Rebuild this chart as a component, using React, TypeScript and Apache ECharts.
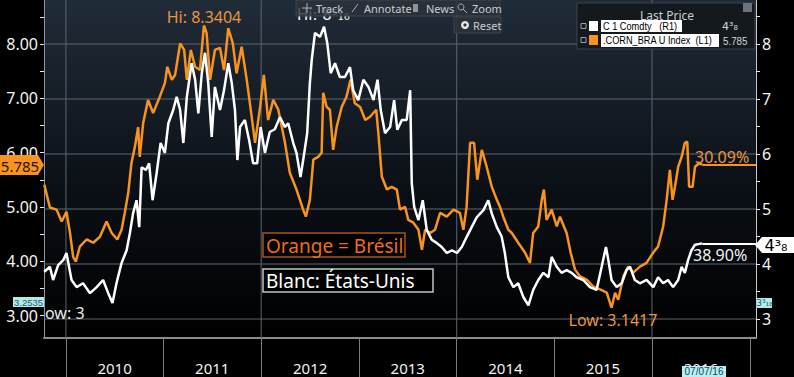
import React, { useEffect, useRef } from 'react';
import * as echarts from 'echarts';

// ---------- DATA ----------
const brazilDates = [
  '2009-10-12','2009-11-02','2009-11-27','2009-12-16','2010-01-03','2010-01-16','2010-01-28','2010-02-07','2010-02-22','2010-03-19',
  '2010-04-13','2010-05-08','2010-06-02','2010-06-21','2010-07-12','2010-07-28','2010-08-09','2010-08-22','2010-09-03','2010-09-16',
  '2010-09-28','2010-10-04','2010-10-17','2010-11-04','2010-11-23','2010-12-18','2011-01-06','2011-01-15','2011-02-01','2011-02-13',
  '2011-03-04','2011-03-19','2011-03-29','2011-04-13','2011-04-29','2011-05-17','2011-06-01','2011-06-11','2011-06-24','2011-07-12',
  '2011-07-31','2011-08-15','2011-08-31','2011-09-17','2011-10-01','2011-10-20','2011-11-08','2011-11-23','2011-12-09','2011-12-28',
  '2012-01-11','2012-01-27','2012-02-15','2012-03-05','2012-03-30','2012-04-17','2012-05-12','2012-06-06','2012-06-16','2012-07-01',
  '2012-07-14','2012-08-01','2012-08-14','2012-08-20','2012-09-02','2012-09-14','2012-09-26','2012-10-09','2012-10-28','2012-11-15',
  '2012-11-30','2012-12-16','2013-01-05','2013-01-24','2013-02-11','2013-03-06','2013-03-14','2013-03-27','2013-04-15','2013-05-03',
  '2013-05-22','2013-06-03','2013-06-22','2013-07-04','2013-07-23','2013-08-11','2013-08-24','2013-09-05','2013-09-24','2013-10-12',
  '2013-10-31','2013-11-25','2013-12-20','2014-01-13','2014-01-26','2014-02-07','2014-02-20','2014-03-07','2014-03-19','2014-04-05',
  '2014-04-23','2014-05-12','2014-05-31','2014-06-12','2014-06-24','2014-07-13','2014-07-26','2014-08-19','2014-09-13','2014-10-02',
  '2014-10-14','2014-11-02','2014-11-15','2014-11-23','2014-12-03','2014-12-22','2015-01-10','2015-01-22','2015-02-16','2015-03-03',
  '2015-03-19','2015-04-07','2015-05-02','2015-05-27','2015-06-21','2015-07-16','2015-08-03','2015-08-16','2015-08-28','2015-09-16',
  '2015-10-04','2015-10-23','2015-11-17','2015-12-12','2016-01-06','2016-01-24','2016-02-12','2016-02-25','2016-03-08','2016-03-18',
  '2016-03-27','2016-04-08','2016-04-21','2016-05-03','2016-05-12','2016-05-19','2016-06-01','2016-06-10','2016-06-24','2016-07-07',
];
const brazilValues = [
  5.41,4.99,4.95,4.73,4.91,4.53,4.08,3.99,4.27,4.40,
  4.34,4.45,4.73,4.52,4.40,4.58,4.89,5.26,5.81,6.11,
  6.47,5.92,6.55,6.97,6.73,7.03,7.28,7.58,7.34,7.43,
  8.01,7.89,7.34,7.89,7.58,7.52,8.3404,8.20,7.34,7.89,
  7.93,7.52,8.29,8.01,7.46,7.95,7.34,6.79,6.18,6.84,
  7.43,6.60,6.97,6.79,6.18,5.63,5.32,4.95,4.82,5.13,
  5.87,5.92,6.00,7.10,6.84,6.79,6.05,6.47,6.84,7.03,
  7.34,6.91,6.84,6.60,6.66,6.79,6.36,5.56,5.32,5.37,
  5.32,4.95,5.00,4.76,4.71,4.58,4.21,4.58,4.52,4.58,
  4.89,4.82,4.95,4.89,4.58,5.00,6.18,6.18,5.50,6.05,
  5.74,5.37,5.13,5.00,4.82,4.58,4.52,4.34,4.16,3.97,
  4.52,4.64,5.13,5.32,4.76,4.95,4.64,4.82,4.52,4.16,
  3.85,3.72,3.66,3.53,3.48,3.42,3.1417,3.42,3.29,3.72,
  3.90,3.79,3.90,3.97,4.16,4.27,4.64,5.13,5.68,5.13,
  5.37,5.74,5.92,6.18,6.20,5.37,5.37,5.74,5.80,5.785,
];

const usDates = [
  '2009-10-12','2009-11-02','2009-11-14','2009-12-03','2009-12-22','2010-01-03','2010-01-22','2010-02-10','2010-03-06','2010-04-01',
  '2010-04-26','2010-05-20','2010-06-08','2010-06-24','2010-07-09','2010-07-28','2010-08-16','2010-08-28','2010-09-09','2010-09-22',
  '2010-10-02','2010-10-11','2010-10-27','2010-11-08','2010-11-21','2010-12-06','2010-12-21','2011-01-06','2011-01-19','2011-02-06',
  '2011-02-19','2011-03-04','2011-03-16','2011-03-29','2011-04-16','2011-04-29','2011-05-11','2011-05-24','2011-06-05','2011-06-17',
  '2011-06-30','2011-07-12','2011-07-31','2011-08-15','2011-08-31','2011-09-13','2011-09-25','2011-10-04','2011-10-14','2011-11-01',
  '2011-11-17','2011-12-02','2011-12-17','2011-12-30','2012-01-15','2012-02-02','2012-02-21','2012-03-11','2012-03-30','2012-04-11',
  '2012-04-30','2012-05-12','2012-05-27','2012-06-06','2012-06-21','2012-07-01','2012-07-08','2012-07-20','2012-08-08','2012-08-23',
  '2012-09-04','2012-09-17','2012-10-03','2012-10-21','2012-11-09','2012-11-28','2012-12-10','2012-12-29','2013-01-17','2013-02-05',
  '2013-02-24','2013-03-11','2013-03-23','2013-04-08','2013-04-27','2013-05-12','2013-05-24','2013-06-10','2013-06-28','2013-07-11',
  '2013-07-17','2013-07-26','2013-08-11','2013-08-27','2013-09-11','2013-09-30','2013-10-19','2013-11-06','2013-11-25','2013-12-14',
  '2014-01-02','2014-01-20','2014-02-07','2014-02-26','2014-03-17','2014-04-11','2014-04-29','2014-05-12','2014-05-31','2014-06-18',
  '2014-06-30','2014-07-13','2014-08-01','2014-08-19','2014-09-07','2014-09-26','2014-10-14','2014-11-02','2014-11-21','2014-12-10',
  '2014-12-22','2015-01-10','2015-01-28','2015-02-16','2015-03-07','2015-03-25','2015-04-19','2015-05-14','2015-06-08','2015-06-27',
  '2015-07-13','2015-07-22','2015-08-03','2015-08-22','2015-09-10','2015-09-28','2015-10-11','2015-10-29','2015-11-17','2015-12-12',
  '2016-01-06','2016-01-24','2016-02-12','2016-03-01','2016-03-20','2016-04-08','2016-04-21','2016-05-03','2016-05-15','2016-05-28',
  '2016-06-10','2016-07-07',
];
const usValues = [
  3.86,3.95,3.71,3.98,4.07,4.20,3.71,3.58,3.65,3.47,
  3.58,3.71,3.47,3.29,3.65,4.02,4.25,4.56,4.92,5.16,
  4.67,5.76,5.71,5.83,5.16,5.65,6.20,6.02,6.56,6.80,
  7.04,6.80,6.20,7.04,7.65,7.35,6.74,7.47,7.84,7.29,
  6.31,7.22,6.80,7.16,7.65,7.29,6.80,5.89,6.49,6.62,
  6.25,5.83,5.83,6.49,6.02,6.40,6.45,6.67,6.49,6.56,
  6.20,6.02,5.58,5.89,6.38,7.29,7.71,8.20,8.13,8.3125,
  8.02,7.47,7.65,7.40,7.40,7.58,7.16,6.98,7.35,7.22,
  6.98,7.35,6.80,6.38,6.49,6.98,6.44,6.62,6.62,7.16,
  5.47,5.04,4.80,5.16,4.62,4.44,4.38,4.31,4.20,4.25,
  4.20,4.31,4.49,4.67,4.85,4.98,5.16,4.92,4.67,4.50,
  4.20,3.76,3.58,3.65,3.40,3.25,3.53,3.71,3.84,3.76,
  4.13,3.95,3.84,3.89,3.84,3.76,3.71,3.58,3.53,3.95,
  4.31,4.07,3.71,3.58,3.65,3.89,3.95,3.71,3.65,3.71,
  3.58,3.76,3.65,3.71,3.58,3.71,3.95,3.84,4.07,4.25,
  4.35,4.375,
];

const yearLabels = ['2010', '2011', '2012', '2013', '2014', '2015', '2016'];
const yearBoundaries = ['2010', '2011', '2012', '2013', '2014', '2015', '2016', '2017'];
const gridYears = ['2010', '2012', '2014', '2016'];
const leftLabelValues = [3, 4, 5, 6, 7, 8];
const rightLabelValues = [3, 4, 5, 6, 7, 8];
const tickValues = [3, 3.5, 4, 4.5, 5, 5.5, 6, 6.5, 7, 7.5, 8, 8.5];
const X_MIN = '2009-10-11';
const X_MAX = '2017-01-24';
const LEFT_MIN = 2.586;
const LEFT_MAX = 8.81;
const RIGHT_MIN = 2.655;
const RIGHT_MAX = 8.8;

const ts = (s: string) => {
  const [y, m, d] = s.split('-').map(Number);
  return new Date(y, (m || 1) - 1, d || 1).getTime();
};

const FONT = "'Noto Sans', 'DejaVu Sans', sans-serif";
const ARIAL = "'Liberation Sans', 'DejaVu Sans', sans-serif";
const ORANGE = '#f7931e';
const ORANGE_TXT = '#e8963e';
const GRID_COLOR = '#5c6672';

const text = (t: string, x: number, y: number, fill: string, fontSize: number, align = 'left', extra: any = {}) => ({
  type: 'text', x, y, z: 100,
  style: { text: t, fill, fontSize, fontFamily: FONT, align, verticalAlign: 'middle', ...extra },
});
const rect = (x: number, y: number, w: number, h: number, style: any, z = 100) => ({
  type: 'rect', z, shape: { x, y, width: w, height: h }, style,
});

export default function App() {
  const ref = useRef<HTMLDivElement>(null);
  useEffect(() => {
    document.body.style.margin = '0';
    document.body.style.background = '#000';
    const chart = echarts.init(ref.current!, null, { renderer: 'svg' });

    const brazil = brazilDates.map((d, i) => [ts(d), brazilValues[i]]);
    const us = usDates.map((d, i) => [ts(d), usValues[i]]);
    const bLast = brazil[brazil.length - 1];
    const uLast = us[us.length - 1];

    const graphic: any[] = [
      rect(44, 0, 712, 338, {
        fill: new echarts.graphic.LinearGradient(0, 0, 0, 1, [
          { offset: 0, color: '#212c39' },
          { offset: 0.55, color: '#0b1016' },
          { offset: 1, color: '#000000' },
        ]),
      }, -10),

      text('Hi: 8⁵₁₆', 297, 15, '#ffffff', 15, 'left', { fontFamily: "'DejaVu Sans', sans-serif" }),
      rect(296, 0, 204, 16, { fill: 'rgba(44,50,58,0.82)', stroke: '#3d444d', lineWidth: 1 }, 110),
      rect(454, 17, 47, 16, { fill: 'rgba(44,50,58,0.9)', stroke: '#3d444d', lineWidth: 1 }, 110),
      { type: 'line', z: 111, shape: { x1: 307, y1: 3, x2: 307, y2: 13 }, style: { stroke: '#aab0b6', lineWidth: 1 } },
      { type: 'line', z: 111, shape: { x1: 302, y1: 8, x2: 312, y2: 8 }, style: { stroke: '#aab0b6', lineWidth: 1 } },
      { type: 'line', z: 111, shape: { x1: 352, y1: 12, x2: 358, y2: 4 }, style: { stroke: '#aab0b6', lineWidth: 1 } },
      rect(413, 4, 5, 8, { fill: '#8e949a' }, 111),
      { type: 'circle', z: 111, shape: { cx: 461, cy: 7, r: 3 }, style: { fill: 'none', stroke: '#aab0b6', lineWidth: 1 } },
      { type: 'line', z: 111, shape: { x1: 463, y1: 9, x2: 467, y2: 13 }, style: { stroke: '#aab0b6', lineWidth: 1 } },
      { ...text('Track', 316, 8, '#c9cdd2', 11), z: 112 },
      { ...text('Annotate', 364, 8, '#c9cdd2', 11), z: 112 },
      { ...text('News', 426, 8, '#c9cdd2', 11), z: 112 },
      { ...text('Zoom', 472, 8, '#c9cdd2', 11), z: 112 },
      { type: 'circle', z: 112, shape: { cx: 465, cy: 25, r: 4 }, style: { fill: '#e8e8e8' } },
      { type: 'circle', z: 113, shape: { cx: 465, cy: 25, r: 1.6 }, style: { fill: '#2c323a' } },
      { ...text('Reset', 473, 25, '#c9cdd2', 11), z: 112 },

      rect(577, 3, 178, 46, { fill: 'rgba(20,24,30,0.95)', stroke: '#3c434c', lineWidth: 1 }, 110),
      rect(743, 3, 9, 9, { fill: '#6c737b' }, 111),
      { ...text('Last Price', 667, 15, '#c9cdd2', 12, 'center'), z: 112 },
      rect(581, 23.5, 5, 5, { fill: 'none', stroke: '#9aa0a6', lineWidth: 1 }, 111),
      rect(589, 21, 9, 10, { fill: '#ffffff' }, 111),
      rect(601, 20, 81, 12, { fill: '#ffffff' }, 111),
      { ...text('C 1 Comdty   (R1)', 603, 26.5, '#000000', 11.5, 'left', { fontFamily: ARIAL }), scaleX: 0.8, z: 112 },
      { ...text('4³₈', 722, 26, '#d4d6d8', 11, 'left', { fontFamily: "'DejaVu Sans', sans-serif" }), z: 112 },
      rect(581, 37.5, 5, 5, { fill: 'none', stroke: '#9aa0a6', lineWidth: 1 }, 111),
      rect(589, 35, 9, 10, { fill: ORANGE }, 111),
      rect(601, 34, 118, 13, { fill: '#ffffff' }, 111),
      { ...text('.CORN_BRA U Index  (L1)', 603, 40.5, '#000000', 11.5, 'left', { fontFamily: ARIAL }), scaleX: 0.8, z: 112 },
      { ...text('5.785', 723, 40.5, '#d4d6d8', 11.5, 'left', { fontFamily: ARIAL }), scaleX: 0.85, z: 112 },

      text('Hi: 8.3404', 204, 17, ORANGE_TXT, 16, 'center'),
      text('Low: 3.1417', 613, 320, ORANGE_TXT, 16, 'center'),
      text('30.09%', 695, 157, ORANGE_TXT, 16, 'left'),
      text('38.90%', 693, 255, '#f2f2f2', 16, 'left'),
      text('ow: 3', 45, 313, '#e8e8e8', 16, 'left'),

      rect(263, 233, 142, 24, { fill: 'rgba(0,0,0,0.85)', stroke: '#a9521e', lineWidth: 1.5 }),
      { ...text('Orange = Brésil', 266, 245.5, '#ec6e1e', 19), z: 101 },
      rect(263, 269, 170, 23, { fill: '#000000', stroke: '#c4c4c4', lineWidth: 1.5 }),
      { ...text('Blanc: États-Unis', 266, 281, '#ffffff', 19), z: 101 },

      { type: 'polygon', z: 120, shape: { points: [[0, 155], [38, 155], [44, 165], [38, 175], [0, 175]] }, style: { fill: ORANGE } },
      { ...text('5.785', 20, 165.5, '#2a1400', 15, 'center'), z: 121 },
      { type: 'polygon', z: 120, shape: { points: [[794, 237], [762, 237], [755, 245], [762, 253], [794, 253]] }, style: { fill: '#ffffff' } },
      { ...text('4³₈', 776, 245.5, '#000000', 16, 'center', { fontFamily: "'DejaVu Sans', sans-serif" }), z: 121 },

      rect(13, 297, 31, 10, { fill: '#b3ebeb' }, 120),
      { ...text('3.2535', 28.5, 302.5, '#176470', 9.5, 'center', { fontFamily: ARIAL }), z: 121 },
      rect(757, 298, 15, 10, { fill: '#b3ebeb' }, 120),
      { ...text('3³₁₆', 764.5, 303, '#176470', 9, 'center', { fontFamily: "'DejaVu Sans', sans-serif" }), z: 121 },
      rect(682, 366, 44, 11, { fill: '#b8f0f0' }, 120),
      { ...text('07/07/16', 704, 371.5, '#123e6e', 10, 'center', { fontFamily: ARIAL }), z: 121 },
    ];

    // grid lines drawn as plain line series through the axes' own scales
    const gridSeries: any[] = [
      ...rightLabelValues.map((v) => ({
        name: 'grid-y-' + v, type: 'line', yAxisIndex: 1, silent: true, z: 1,
        symbol: 'none', showSymbol: false,
        data: [[ts(X_MIN), v], [ts(X_MAX), v]],
        lineStyle: { color: GRID_COLOR, width: 1, type: 'solid' },
      })),
      ...gridYears.map((yr) => ({
        name: 'grid-x-' + yr, type: 'line', yAxisIndex: 1, silent: true, z: 1,
        symbol: 'none', showSymbol: false,
        data: [[ts(yr + '-01-01'), RIGHT_MIN], [ts(yr + '-01-01'), RIGHT_MAX]],
        lineStyle: { color: GRID_COLOR, width: 1, type: 'solid' },
      })),
    ];

    const option: any = {
      animation: false,
      backgroundColor: '#000000',
      grid: {
        left: 44, right: 38, top: 0, bottom: 39,
        show: false,
        outerBoundsMode: 'none',
      },
      xAxis: {
        type: 'value',
        min: ts(X_MIN),
        max: ts(X_MAX),
        splitLine: { show: false },
        axisLine: { show: true, onZero: false, lineStyle: { color: '#8e8c84', width: 2 } },
        axisTick: {
          show: true, length: 39, inside: false,
          customValues: yearBoundaries.map((y) => ts(y + '-01-01')),
          lineStyle: { color: '#7c7c7c', width: 1 },
        },
        axisLabel: {
          show: true,
          customValues: yearLabels.map((y) => ts(y + '-07-02')),
          formatter: (v: number) => String(new Date(v).getFullYear()),
          color: '#f2f2f2', fontSize: 15, fontFamily: FONT, margin: 22,
        },
      },
      yAxis: [
        {
          type: 'value', position: 'left', min: LEFT_MIN, max: LEFT_MAX,
          splitLine: { show: false },
          axisLine: { show: true, onZero: false, lineStyle: { color: '#8f969e', width: 1 } },
          axisTick: { show: true, length: 4, customValues: tickValues, lineStyle: { color: '#e8e8e8' } },
          axisLabel: {
            customValues: leftLabelValues,
            formatter: (v: number) => v.toFixed(2),
            color: '#f2f2f2', fontSize: 16, fontFamily: FONT, margin: 6,
          },
        },
        {
          type: 'value', position: 'right', min: RIGHT_MIN, max: RIGHT_MAX,
          splitLine: { show: false },
          axisLine: { show: true, onZero: false, lineStyle: { color: '#c8c8c8', width: 1 } },
          axisTick: { show: true, length: 4, customValues: tickValues, lineStyle: { color: '#e8e8e8' } },
          axisLabel: {
            customValues: rightLabelValues,
            formatter: (v: number) => String(v),
            color: '#f2f2f2', fontSize: 16, fontFamily: FONT, margin: 6,
          },
        },
      ],
      series: [
        ...gridSeries,
        {
          name: '.CORN_BRA U Index', type: 'line', yAxisIndex: 0, data: brazil,
          symbol: 'none', showSymbol: false, silent: true, z: 3,
          lineStyle: { color: ORANGE, width: 2.5 },
          markLine: {
            silent: true, symbol: 'none', label: { show: false }, z: 3,
            data: [[
              { coord: [bLast[0], bLast[1]] },
              { coord: [ts(X_MAX), bLast[1]] },
            ]],
            lineStyle: { color: ORANGE, width: 2, type: 'solid' },
          },
        },
        {
          name: 'C 1 Comdty', type: 'line', yAxisIndex: 1, data: us,
          symbol: 'none', showSymbol: false, silent: true, z: 4,
          lineStyle: { color: '#ffffff', width: 2.5 },
          markLine: {
            silent: true, symbol: 'none', label: { show: false }, z: 4,
            data: [[
              { coord: [uLast[0], uLast[1]] },
              { coord: [ts(X_MAX), uLast[1]] },
            ]],
            lineStyle: { color: '#ffffff', width: 2, type: 'solid' },
          },
        },
      ],
      graphic,
    };

    chart.setOption(option);
    return () => chart.dispose();
  }, []);
  return <div ref={ref} style={{ width: 794, height: 377, background: '#000' }} />;
}
